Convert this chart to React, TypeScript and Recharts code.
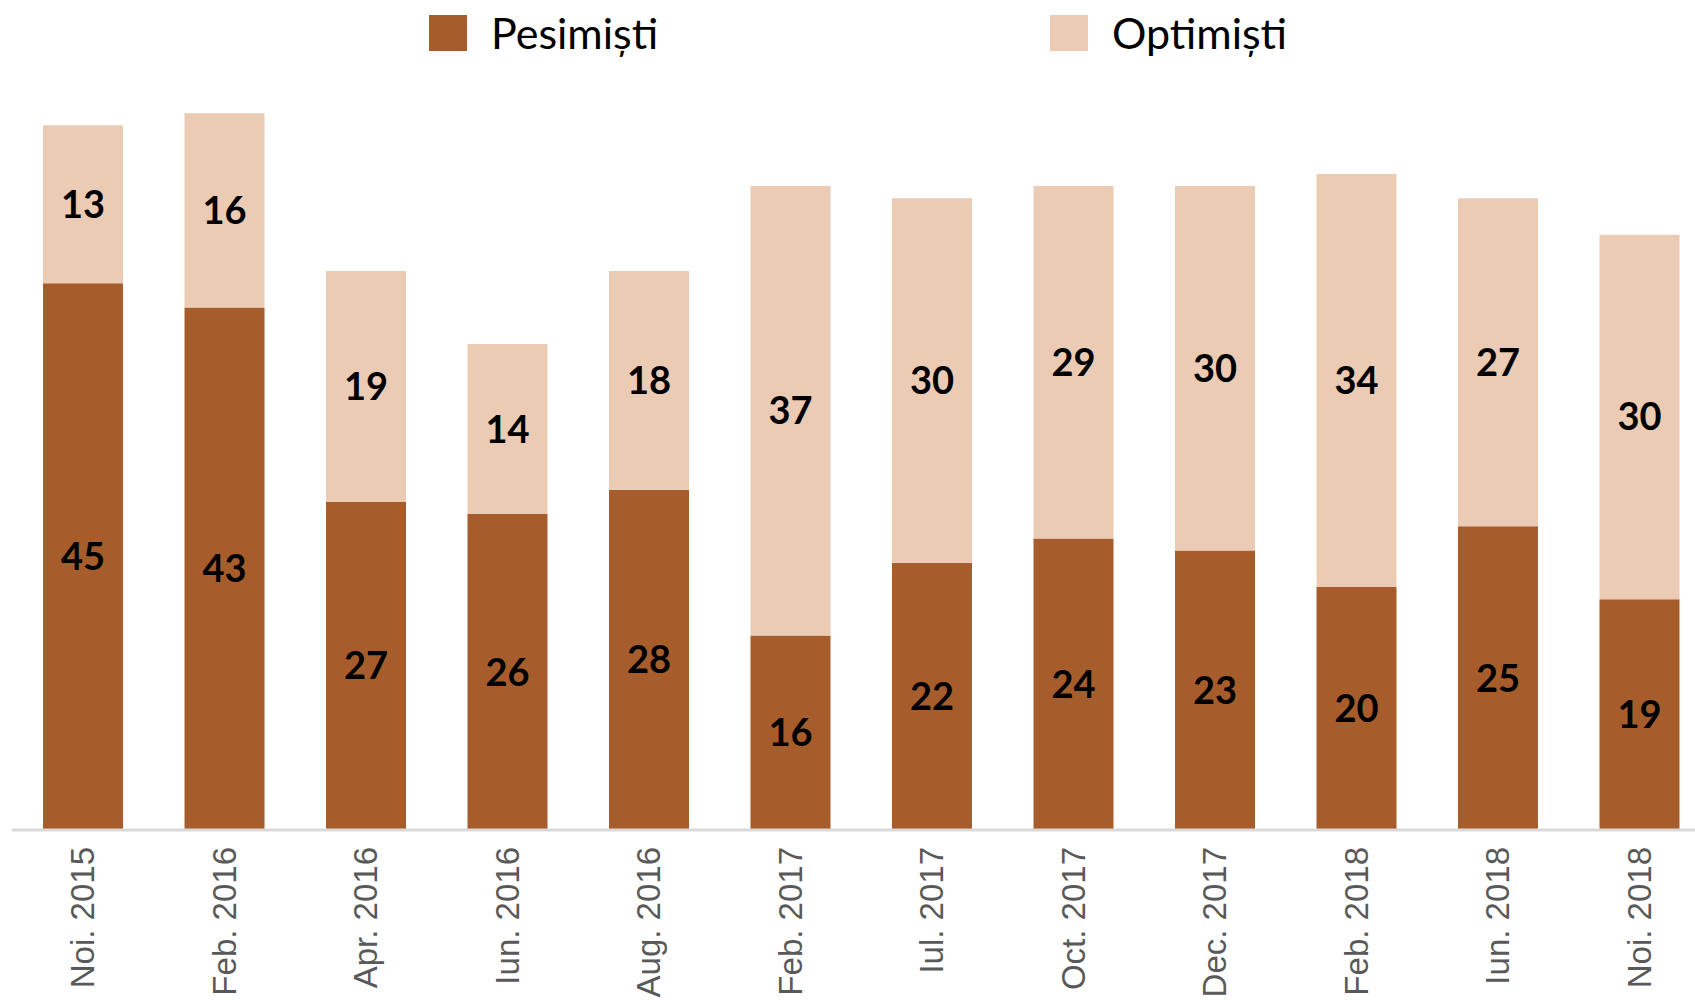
import React from "react";
import { BarChart, Bar, XAxis, YAxis, Legend, LabelList } from "recharts";

const categories = [
  "Noi. 2015", "Feb. 2016", "Apr. 2016", "Iun. 2016", "Aug. 2016", "Feb. 2017",
  "Iul. 2017", "Oct. 2017", "Dec. 2017", "Feb. 2018", "Iun. 2018", "Noi. 2018",
];
const pesimisti = [45, 43, 27, 26, 28, 16, 22, 24, 23, 20, 25, 19];
const optimisti = [13, 16, 19, 14, 18, 37, 30, 29, 30, 34, 27, 30];

const seriesNames = ["Pesimiști", "Optimiști"];
const seriesColors = ["#A65D2B", "#EBCBB3"];

const data = categories.map((name, i) => ({
  name,
  pes: pesimisti[i],
  opt: optimisti[i],
}));

// rotated category labels, reading bottom to top
const RotatedTick = (props: any) => {
  const { x, y, payload } = props;
  const ty = y + 17;
  return (
    <text
      x={x}
      y={ty}
      transform={`rotate(-90, ${x}, ${ty})`}
      textAnchor="end"
      dominantBaseline="central"
      fill="#595959"
      fontSize={33}
      fontFamily="'Liberation Sans', Arial, sans-serif"
    >
      {payload.value}
    </text>
  );
};

const legendLeft = [429, 1050];

const TopLegend = () => (
  <div style={{ position: "relative", width: 1695, height: 70 }}>
    {seriesNames.map((n, i) => (
      <div
        key={n}
        style={{ position: "absolute", left: legendLeft[i], top: 15, display: "flex", alignItems: "center" }}
      >
        <div style={{ width: 38, height: 36, background: seriesColors[i] }} />
        <span
          style={{
            marginLeft: 24,
            fontSize: 43,
            lineHeight: "36px",
            fontFamily: "Lato, 'Noto Sans', sans-serif",
            color: "#000",
          }}
        >
          {n}
        </span>
      </div>
    ))}
  </div>
);

const labelStyle = { fill: "#000", fontSize: 38, fontWeight: 700, fontFamily: "Lato, 'Noto Sans', sans-serif" };

export default function App() {
  return (
    <div style={{ position: "absolute", left: 0, top: 0, width: 1695, height: 1000, overflow: "hidden", background: "#fff" }}>
      <BarChart
        width={1730}
        height={1000}
        data={data}
        margin={{ top: 101, right: 20, left: 12, bottom: 0 }}
        barSize={80}
      >
        <XAxis
          dataKey="name"
          height={170}
          interval={0}
          tickLine={false}
          tickSize={0}
          tickMargin={0}
          stroke="#D9D9D9"
          strokeWidth={3}
          tick={<RotatedTick />}
        />
        <YAxis hide domain={[0, 60]} />
        <Legend
          verticalAlign="middle"
          align="center"
          content={<TopLegend />}
          wrapperStyle={{ top: 0, left: 0, width: 1695, height: 70 }}
        />
        <Bar dataKey="pes" name={seriesNames[0]} stackId="a" fill={seriesColors[0]} isAnimationActive={false}>
          <LabelList dataKey="pes" position="center" {...labelStyle} />
        </Bar>
        <Bar dataKey="opt" name={seriesNames[1]} stackId="a" fill={seriesColors[1]} isAnimationActive={false}>
          <LabelList dataKey="opt" position="center" {...labelStyle} />
        </Bar>
      </BarChart>
    </div>
  );
}
